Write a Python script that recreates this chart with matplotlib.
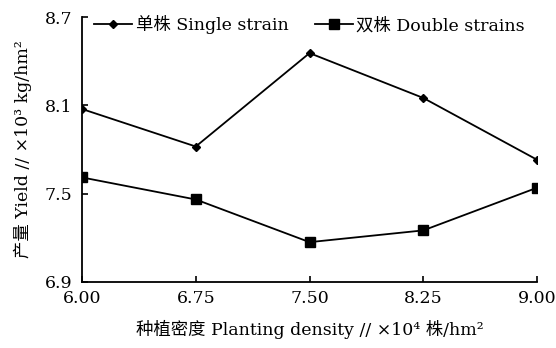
import matplotlib
matplotlib.use("Agg")
import matplotlib.pyplot as plt

plt.rcParams['font.family'] = ['DejaVu Serif', 'Noto Sans CJK SC', 'DejaVu Sans']

densities = ["6.00", "6.75", "7.50", "8.25", "9.00"]
x_values = [6.00, 6.75, 7.50, 8.25, 9.00]
single = [8.075, 7.82, 8.455, 8.15, 7.73]
double = [7.61, 7.46, 7.17, 7.25, 7.54]
y_ticks = [6.9, 7.5, 8.1, 8.7]
y_ticklabels = ["6.9", "7.5", "8.1", "8.7"]

fig = plt.figure(figsize=(5.56, 3.48), dpi=100)
ax = fig.add_axes([0.1475, 0.19, 0.8185, 0.761])

ax.plot(x_values, single, color='black', lw=1.3, marker='D', ms=4.5, label='单株 Single strain')
ax.plot(x_values, double, color='black', lw=1.3, marker='s', ms=6.5, label='双株 Double strains')

ax.set_xlim(6.0, 9.0)
ax.set_ylim(6.9, 8.7)
ax.set_xticks(x_values)
ax.set_xticklabels(densities)
ax.set_yticks(y_ticks)
ax.set_yticklabels(y_ticklabels)
ax.tick_params(direction='in', length=4, width=1.2, labelsize=12.5)
ax.tick_params(axis='x', pad=6)
ax.tick_params(axis='y', pad=7)
for s in ['top', 'right']:
    ax.spines[s].set_visible(False)
for s in ['left', 'bottom']:
    ax.spines[s].set_linewidth(1.3)

ax.set_xlabel('种植密度 Planting density // ×10⁴ 株/hm²', fontsize=12.5, labelpad=9)
ax.set_ylabel('产量 Yield // ×10³ kg/hm²', fontsize=12.5, labelpad=9)

ax.legend(loc='upper center', bbox_to_anchor=(0.5, 1.065), ncol=2, frameon=False,
          fontsize=12.5, handlelength=2.2, handletextpad=0.2, columnspacing=1.5)

fig.savefig('out.png', dpi=100)
